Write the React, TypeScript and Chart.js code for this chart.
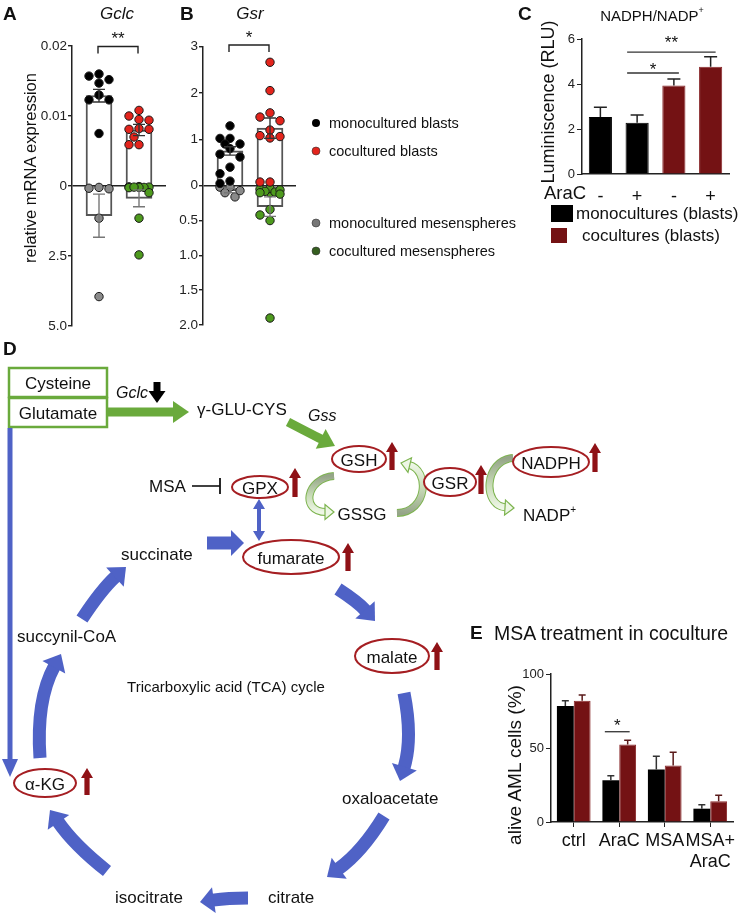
import React, { useEffect, useRef } from "react";
import { Chart, registerables } from "chart.js";
Chart.register(...registerables);

const FONT = '"Liberation Sans", Arial, Helvetica, sans-serif';
Chart.defaults.font.family = FONT;

// ---------- Panel A: Gclc ----------
const gclcMonoBlasts = [0.016, 0.0157, 0.0152, 0.0147, 0.013, 0.0123, 0.0123, 0.0075];
const gclcCoBlasts = [0.0108, 0.01, 0.0095, 0.0094, 0.0081, 0.0082, 0.0081, 0.007, 0.0059, 0.0059];
const gclcMonoMesen = [0.08, 0.05, 0.1, 1.15, 3.95];
const gclcCoMesen = [0.02, 0.04, 0.05, 0.03, 0.06, 0.05, 0.04, 0.24, 1.15, 2.46];
const gclcBlastMean = [0.0129, 0.008];
const gclcBlastSem = [0.0009, 0.0008];
const gclcMesenMean = [1.06, 0.44];
const gclcMesenSem = [0.77, 0.3];
const gclcUpperTicks = [0.01, 0.02];
const gclcLowerTicks = [2.5, 5.0];

// ---------- Panel B: Gsr ----------
const gsrMonoBlasts = [1.29, 1.02, 1.02, 0.9, 0.9, 0.8, 0.62, 0.68, 0.4, 0.26, 0.1, 0.05];
const gsrCoBlasts = [2.66, 2.05, 1.57, 1.48, 1.4, 1.2, 1.08, 1.06, 1.03, 0.08, 0.08];
const gsrMonoMesen = [0.02, 0.02, 0.16, 0.1, 0.07];
const gsrCoMesen = [0.05, 0.1, 0.04, 0.09, 0.08, 0.1, 0.06, 0.12, 0.34, 0.42, 0.5, 1.9];
const gsrBlastMean = [0.75, 1.24];
const gsrBlastSem = [0.09, 0.22];
const gsrMesenMean = [0.07, 0.3];
const gsrMesenSem = [0.03, 0.14];
const gsrUpperTicks = [1, 2, 3];
const gsrLowerTicks = [0.5, 1.0, 1.5, 2.0];

// ---------- Panel C: NADPH/NADP+ ----------
const nadphLabels = ["-", "+", "-", "+"];
const nadphValues = [2.53, 2.28, 3.93, 4.77];
const nadphSem = [0.44, 0.34, 0.29, 0.44];
const nadphCoculture = [false, false, true, true];

// ---------- Panel E: MSA treatment ----------
const msaCategories = ["ctrl", "AraC", "MSA", ["MSA+", "AraC"]];
const msaMono = [78.3, 28.2, 35.4, 9.0];
const msaMonoSem = [3.6, 3.0, 9.1, 2.7];
const msaCo = [81.9, 52.4, 38.2, 14.0];
const msaCoSem = [3.9, 2.9, 9.0, 4.0];

const BLACK = "#000000";
const RED_PT = "#e3241c";
const GRAY_PT = "#8a8a8a";
const GREEN_PT = "#4e9a1e";
const DARK_RED = "#741214";

function starAt(ctx: any, text: string, cx: number, cy: number, size = 16) {
  ctx.font = `${size}px ${FONT}`;
  ctx.textAlign = "center";
  ctx.textBaseline = "alphabetic";
  ctx.fillStyle = "#111";
  ctx.fillText(text, cx, cy + 0.57 * size);
}

// greedy bee-swarm placement in pixel space
function swarm(ys: number[], pxY: number, pxX: number, center: number) {
  const order = ys.map((_, i) => i).sort((a, b) => ys[b] - ys[a]);
  const placed: { x: number; y: number }[] = [];
  const out: any[] = new Array(ys.length);
  const cands = [0, -1, 1, -0.5, 0.5];
  const step = 10;
  const minD = 8.5;
  for (const i of order) {
    const py = ys[i] * pxY;
    let best = 0;
    let bestD = -1;
    for (const c of cands) {
      const px = c * step;
      let d = Infinity;
      for (const q of placed) d = Math.min(d, Math.hypot(q.x - px, q.y - py));
      if (d >= minD) {
        best = px;
        bestD = d;
        break;
      }
      if (d > bestD) {
        bestD = d;
        best = px;
      }
    }
    placed.push({ x: best, y: py });
    out[i] = { x: center + best / pxX, y: ys[i] };
  }
  return out;
}

function splitConfig(p: any) {
  const up = (v: number) => v / p.upperMax;
  const dn = (v: number) => -v / p.lowerMax;
  const pxY = p.plotH / 2;
  const pxX = 40;
  const tickVals = [...p.upperTicks.map(up), 0, ...p.lowerTicks.map(dn)];
  const tickLabels = [...p.upperTicks.map(p.fmtUpper), "0", ...p.lowerTicks.map((v: number) => v.toFixed(1))];
  const mkPts = (vals: number[], f: (v: number) => number, g: number) => swarm(vals.map(f), pxY, pxX, g);
  const pt = (data: any[], color: string) => ({
    type: "scatter",
    data,
    backgroundColor: color,
    borderColor: "#1a1a1a",
    borderWidth: 1,
    pointRadius: 4.2,
    clip: false,
    order: 0,
  });
  const extras = {
    id: "splitExtras",
    afterDatasetsDraw(chart: any) {
      const { ctx, scales } = chart;
      const x = scales.x;
      const y = scales.y;
      ctx.save();
      const whisk = (g: number, lo: number, hi: number, color: string) => {
        const cx = x.getPixelForValue(g);
        const y1 = y.getPixelForValue(lo);
        const y2 = y.getPixelForValue(hi);
        ctx.strokeStyle = color;
        ctx.lineWidth = 1.4;
        ctx.beginPath();
        ctx.moveTo(cx, y1);
        ctx.lineTo(cx, y2);
        ctx.moveTo(cx - 6, y1);
        ctx.lineTo(cx + 6, y1);
        ctx.moveTo(cx - 6, y2);
        ctx.lineTo(cx + 6, y2);
        ctx.stroke();
      };
      [1, 2].forEach((g, i) => {
        whisk(g, up(p.blastMean[i] - p.blastSem[i]), up(p.blastMean[i] + p.blastSem[i]), "#333");
        whisk(g, dn(p.mesenMean[i] - p.mesenSem[i]), dn(p.mesenMean[i] + p.mesenSem[i]), "#777");
      });
      const top = chart.chartArea.top + p.bracketDy;
      const x1 = x.getPixelForValue(1) - 1;
      const x2 = x.getPixelForValue(2) - 1;
      ctx.strokeStyle = "#222";
      ctx.lineWidth = 1.4;
      ctx.beginPath();
      ctx.moveTo(x1, top + 7);
      ctx.lineTo(x1, top);
      ctx.lineTo(x2, top);
      ctx.lineTo(x2, top + 7);
      ctx.stroke();
      starAt(ctx, p.star, (x1 + x2) / 2, top - 12, 17);
      ctx.restore();
    },
  };
  return {
    type: "scatter",
    data: {
      datasets: [
        pt(mkPts(p.monoBlasts, up, 1), BLACK),
        pt(mkPts(p.coBlasts, up, 2), RED_PT),
        pt(mkPts(p.monoMesen, dn, 1), GRAY_PT),
        pt(mkPts(p.coMesen, dn, 2), GREEN_PT),
        {
          type: "bar",
          data: [
            { x: 1, y: up(p.blastMean[0]) },
            { x: 2, y: up(p.blastMean[1]) },
            { x: 1, y: dn(p.mesenMean[0]) },
            { x: 2, y: dn(p.mesenMean[1]) },
          ],
          barThickness: 26,
          grouped: false,
          backgroundColor: "rgba(255,255,255,0)",
          borderColor: "#555",
          borderWidth: 1.3,
          order: 1,
        },
      ],
    },
    options: {
      animation: false,
      responsive: false,
      devicePixelRatio: 1,
      events: [],
      layout: { padding: { top: p.padTop, right: p.padRight, bottom: p.padBottom, left: 0 } },
      plugins: { legend: { display: false }, tooltip: { enabled: false } },
      scales: {
        x: { type: "linear", min: p.xMin, max: p.xMax, offset: false, display: false },
        y: {
          type: "linear",
          min: -1,
          max: 1,
          afterFit: (s: any) => {
            s.width = p.axisW;
          },
          afterBuildTicks: (s: any) => {
            s.ticks = tickVals.map((v) => ({ value: v }));
          },
          ticks: {
            callback: (_v: any, i: number) => tickLabels[i],
            font: { size: 13.5 },
            color: "#222",
            padding: 1,
          },
          grid: {
            color: (c: any) => (c.tick && Math.abs(c.tick.value) < 1e-9 ? "#222" : "rgba(0,0,0,0)"),
            lineWidth: 1.4,
            tickColor: "#222",
            tickLength: 4,
          },
          border: { display: true, color: "#222", width: 1.5 },
        },
      },
    },
    plugins: [extras],
  };
}

function configA() {
  return splitConfig({
    upperMax: 0.02,
    lowerMax: 5.0,
    upperTicks: gclcUpperTicks,
    lowerTicks: gclcLowerTicks,
    fmtUpper: (v: number) => String(v),
    monoBlasts: gclcMonoBlasts,
    coBlasts: gclcCoBlasts,
    monoMesen: gclcMonoMesen,
    coMesen: gclcCoMesen,
    blastMean: gclcBlastMean,
    blastSem: gclcBlastSem,
    mesenMean: gclcMesenMean,
    mesenSem: gclcMesenSem,
    star: "**",
    plotH: 280,
    axisW: 72,
    padTop: 46,
    padBottom: 14,
    padRight: 9,
    xMin: 0.325,
    xMax: 2.675,
    bracketDy: 0.5,
  });
}

function configB() {
  return splitConfig({
    upperMax: 3,
    lowerMax: 2.0,
    upperTicks: gsrUpperTicks,
    lowerTicks: gsrLowerTicks,
    fmtUpper: (v: number) => String(v),
    monoBlasts: gsrMonoBlasts,
    coBlasts: gsrCoBlasts,
    monoMesen: gsrMonoMesen,
    coMesen: gsrCoMesen,
    blastMean: gsrBlastMean,
    blastSem: gsrBlastSem,
    mesenMean: gsrMesenMean,
    mesenSem: gsrMesenSem,
    star: "*",
    plotH: 278.5,
    axisW: 83,
    padTop: 46.5,
    padBottom: 15,
    padRight: 9,
    xMin: 0.325,
    xMax: 2.65,
    bracketDy: -1.5,
  });
}

function barErrPlugin(id: string, specs: { ds: number; sem: number[]; color: string }[], cap: number, sig: any[]) {
  return {
    id,
    afterDatasetsDraw(chart: any) {
      const { ctx } = chart;
      const y = chart.scales.y;
      ctx.save();
      for (const s of specs) {
        const meta = chart.getDatasetMeta(s.ds);
        const vals = chart.data.datasets[s.ds].data;
        meta.data.forEach((el: any, i: number) => {
          const y1 = y.getPixelForValue(vals[i]);
          const y2 = y.getPixelForValue(vals[i] + s.sem[i]);
          ctx.strokeStyle = s.color;
          ctx.lineWidth = 1.5;
          ctx.beginPath();
          ctx.moveTo(el.x, y1);
          ctx.lineTo(el.x, y2);
          ctx.moveTo(el.x - cap / 2, y2);
          ctx.lineTo(el.x + cap / 2, y2);
          ctx.stroke();
        });
      }
      for (const g of sig) {
        const a = chart.getDatasetMeta(g.dsA).data[g.a];
        const b = chart.getDatasetMeta(g.dsB).data[g.b];
        const ly = y.getPixelForValue(g.y);
        const xa = a.x + g.offA;
        const xb = b.x + g.offB;
        ctx.strokeStyle = "#333";
        ctx.lineWidth = 1.3;
        ctx.beginPath();
        ctx.moveTo(xa, ly);
        ctx.lineTo(xb, ly);
        ctx.stroke();
        starAt(ctx, g.star, (xa + xb) / 2, ly - g.starDy, 17);
      }
      ctx.restore();
    },
  };
}

function configC() {
  return {
    type: "bar",
    data: {
      labels: nadphLabels,
      datasets: [
        {
          data: nadphValues,
          backgroundColor: nadphCoculture.map((c) => (c ? DARK_RED : BLACK)),
          borderColor: nadphCoculture.map((c) => (c ? "#8a2a2c" : BLACK)),
          borderWidth: 1,
          barPercentage: 0.63,
          categoryPercentage: 1,
        },
      ],
    },
    options: {
      animation: false,
      responsive: false,
      devicePixelRatio: 1,
      events: [],
      layout: { padding: { top: 39, right: 15, bottom: 0, left: 0 } },
      plugins: { legend: { display: false }, tooltip: { enabled: false } },
      scales: {
        x: {
          afterFit: (s: any) => {
            s.height = 26;
          },
          grid: { display: false },
          border: { display: true, color: "#222", width: 1.5 },
          ticks: { font: { size: 18 }, color: "#111", padding: 4 },
        },
        y: {
          min: 0,
          max: 6,
          afterFit: (s: any) => {
            s.width = 92;
          },
          ticks: { stepSize: 2, font: { size: 13 }, color: "#222", padding: 2 },
          grid: { drawOnChartArea: false, tickLength: 5, color: "#222", tickColor: "#222" },
          border: { display: true, color: "#222", width: 1.5 },
        },
      },
    },
    plugins: [
      barErrPlugin(
        "cErr",
        [{ ds: 0, sem: nadphSem, color: "#222" }],
        13,
        [
          { dsA: 0, a: 1, dsB: 0, b: 2, y: 4.49, offA: -10, offB: 5, star: "*", starDy: 8 },
          { dsA: 0, a: 1, dsB: 0, b: 3, y: 5.42, offA: -10, offB: 5, star: "**", starDy: 14 },
        ]
      ),
    ],
  };
}

function configE() {
  return {
    type: "bar",
    data: {
      labels: msaCategories,
      datasets: [
        { data: msaMono, backgroundColor: BLACK, barPercentage: 1, categoryPercentage: 0.74 },
        { data: msaCo, backgroundColor: DARK_RED, borderColor: "#8a2a2c", borderWidth: 1, barPercentage: 1, categoryPercentage: 0.74 },
      ],
    },
    options: {
      animation: false,
      responsive: false,
      devicePixelRatio: 1,
      events: [],
      layout: { padding: { top: 34, right: 11, bottom: 0, left: 0 } },
      plugins: { legend: { display: false }, tooltip: { enabled: false } },
      scales: {
        x: {
          afterFit: (s: any) => {
            s.height = 48;
          },
          grid: { offset: false, drawOnChartArea: false, tickLength: 5, color: "#222", tickColor: "#222" },
          border: { display: true, color: "#222", width: 1.5 },
          ticks: { font: { size: 18 }, color: "#111", padding: 3, maxRotation: 0, autoSkip: false },
        },
        y: {
          min: 0,
          max: 100,
          afterFit: (s: any) => {
            s.width = 91;
          },
          ticks: { stepSize: 50, font: { size: 13 }, color: "#222", padding: 2 },
          grid: { drawOnChartArea: false, tickLength: 5, color: "#222", tickColor: "#222" },
          border: { display: true, color: "#222", width: 1.5 },
        },
      },
    },
    plugins: [
      barErrPlugin(
        "eErr",
        [
          { ds: 0, sem: msaMonoSem, color: "#333" },
          { ds: 1, sem: msaCoSem, color: "#5a1a1a" },
        ],
        7,
        [{ dsA: 0, a: 1, dsB: 1, b: 1, y: 61, offA: -6, offB: 2, star: "*", starDy: 10 }]
      ),
    ],
  };
}

function ChartCanvas({ left, top, width, height, make }: any) {
  const ref = useRef<HTMLCanvasElement>(null);
  useEffect(() => {
    const chart = new Chart(ref.current as HTMLCanvasElement, make());
    return () => chart.destroy();
  }, []);
  return (
    <canvas
      ref={ref}
      width={width}
      height={height}
      style={{ position: "absolute", left, top, width, height }}
    />
  );
}

type P = [number, number];

function blockArrow(key: string, p0: P, c: P, p1: P, shaft: number, headW: number, headL: number, color: string) {
  const tx = p1[0] - c[0];
  const ty = p1[1] - c[1];
  const len = Math.hypot(tx, ty) || 1;
  const ux = tx / len;
  const uy = ty / len;
  const bx = p1[0] - ux * headL;
  const by = p1[1] - uy * headL;
  const nx = -uy;
  const ny = ux;
  const ex = bx + ux;
  const ey = by + uy;
  const d = `M${p0[0]},${p0[1]} Q${c[0]},${c[1]} ${ex},${ey}`;
  const head = `${p1[0]},${p1[1]} ${bx + (nx * headW) / 2},${by + (ny * headW) / 2} ${bx - (nx * headW) / 2},${by - (ny * headW) / 2}`;
  return (
    <g key={key}>
      <path d={d} stroke={color} strokeWidth={shaft} fill="none" />
      <polygon points={head} fill={color} />
    </g>
  );
}

function cycleArrow(key: string, p0: P, c1: P, c2: P, p1: P) {
  const tx = p1[0] - c2[0];
  const ty = p1[1] - c2[1];
  const len = Math.hypot(tx, ty) || 1;
  const ux = tx / len;
  const uy = ty / len;
  const headL = 9;
  const headW = 15;
  const bx = p1[0] - ux * headL;
  const by = p1[1] - uy * headL;
  const nx = -uy;
  const ny = ux;
  const d = `M${p0[0]},${p0[1]} C${c1[0]},${c1[1]} ${c2[0]},${c2[1]} ${bx + ux},${by + uy}`;
  const head = `${p1[0]},${p1[1]} ${bx + (nx * headW) / 2},${by + (ny * headW) / 2} ${bx - (nx * headW) / 2},${by - (ny * headW) / 2}`;
  return (
    <g key={key}>
      <defs>
        <linearGradient id={`grad-${key}`} gradientUnits="userSpaceOnUse" x1={p0[0]} y1={p0[1]} x2={p1[0]} y2={p1[1]}>
          <stop offset="0" stopColor="#95a588" />
          <stop offset="0.55" stopColor="#c9dcb8" />
          <stop offset="1" stopColor="#eef7e6" />
        </linearGradient>
      </defs>
      <path d={d} stroke="#7db44f" strokeWidth={8} fill="none" />
      <path d={d} stroke={`url(#grad-${key})`} strokeWidth={6} fill="none" />
      <polygon points={head} fill="#eef7e6" stroke="#7db44f" strokeWidth={1.2} />
    </g>
  );
}

function upArrow(key: string, x: number, yTop: number, yBot: number) {
  const color = "#8f1116";
  return (
    <g key={key}>
      <rect x={x - 2.6} y={yTop + 9} width={5.2} height={yBot - yTop - 9} fill={color} />
      <polygon points={`${x},${yTop} ${x - 6},${yTop + 10} ${x + 6},${yTop + 10}`} fill={color} />
    </g>
  );
}

function Oval({ cx, cy, rx, ry, label }: any) {
  return (
    <g>
      <ellipse cx={cx} cy={cy} rx={rx} ry={ry} fill="#fff" stroke="#a51e22" strokeWidth={2} />
      <text x={cx} y={cy + 1} fontSize={17} textAnchor="middle" dominantBaseline="central" fill="#111">
        {label}
      </text>
    </g>
  );
}

function T({ x, y, size = 17, anchor = "start", children, italic = false, bold = false, rotate = false }: any) {
  return (
    <text
      x={x}
      y={y}
      fontSize={size}
      textAnchor={anchor}
      dominantBaseline="central"
      fontStyle={italic ? "italic" : "normal"}
      fontWeight={bold ? "bold" : "normal"}
      fill="#111"
      transform={rotate ? `rotate(-90 ${x} ${y})` : undefined}
    >
      {children}
    </text>
  );
}

function Overlay() {
  const blue = "#4f62c6";
  const green = "#6aaa3c";
  return (
    <svg
      width={744}
      height={924}
      style={{ position: "absolute", left: 0, top: 0, pointerEvents: "none" }}
      fontFamily={FONT}
    >
      {/* Panel A / B labels */}
      <T x={3} y={13} size={19} bold>A</T>
      <T x={117} y={13} size={17} anchor="middle" italic>Gclc</T>
      <T x={30} y={168} size={16.5} anchor="middle" rotate>relative mRNA expression</T>
      <T x={180} y={13} size={19} bold>B</T>
      <T x={250} y={13} size={17} anchor="middle" italic>Gsr</T>

      {/* A/B legend */}
      <circle cx={316} cy={123} r={4} fill="#000" />
      <T x={329} y={123} size={14.5}>monocultured blasts</T>
      <circle cx={316} cy={151} r={4} fill={RED_PT} stroke="#333" strokeWidth={0.6} />
      <T x={329} y={151} size={14.5}>cocultured blasts</T>
      <circle cx={316} cy={223} r={4} fill="#777" stroke="#333" strokeWidth={0.6} />
      <T x={329} y={223} size={14.5}>monocultured mesenspheres</T>
      <circle cx={316} cy={251} r={4} fill="#355e1f" stroke="#333" strokeWidth={0.6} />
      <T x={329} y={251} size={14.5}>cocultured mesenspheres</T>

      {/* Panel C */}
      <T x={518} y={13} size={19} bold>C</T>
      <text x={652} y={15} fontSize={15} textAnchor="middle" dominantBaseline="central" fill="#111">
        NADPH/NADP<tspan fontSize={9} dy={-5}>+</tspan>
      </text>
      <T x={548} y={102} size={18} anchor="middle" rotate>Luminiscence (RLU)</T>
      <T x={565} y={192} size={18.5} anchor="middle">AraC</T>
      <rect x={551} y={205} width={22} height={17} fill="#000" />
      <T x={576} y={213} size={17}>monocultures (blasts)</T>
      <rect x={551} y={228} width={16} height={15} fill={DARK_RED} />
      <T x={582} y={235} size={17}>cocultures (blasts)</T>

      {/* Panel E */}
      <T x={470} y={632} size={19} bold>E</T>
      <T x={494} y={633} size={19.5}>MSA treatment in coculture</T>
      <T x={514} y={765} size={19} anchor="middle" rotate>alive AML cells (%)</T>

      {/* Panel D */}
      <T x={3} y={348} size={19} bold>D</T>
      <rect x={9} y={368} width={98} height={29} fill="none" stroke={green} strokeWidth={2.5} />
      <rect x={9} y={398} width={98} height={29} fill="none" stroke={green} strokeWidth={2.5} />
      <T x={58} y={383} anchor="middle">Cysteine</T>
      <T x={58} y={413} anchor="middle">Glutamate</T>
      <T x={116} y={392} size={16} italic>Gclc</T>
      {blockArrow("gclc", [157, 382], [157, 392], [157, 403], 7, 17, 12, "#000")}
      {blockArrow("glu", [107, 412], [150, 412], [189, 412], 9, 22, 16, green)}
      <T x={197} y={409}>γ-GLU-CYS</T>
      <T x={308} y={415} size={16} italic>Gss</T>
      {blockArrow("gss", [288, 422], [311, 434], [335, 446], 9, 22, 16, green)}

      {cycleArrow("c1", [334, 476], [306, 478], [300, 512], [334, 512])}
      {cycleArrow("c2", [397, 513], [428, 512], [430, 470], [401, 463])}
      {cycleArrow("c3", [513, 458], [484, 460], [482, 506], [514, 508])}

      <Oval cx={359} cy={459} rx={27} ry={13} label="GSH" />
      {upArrow("u-gsh", 392, 442, 470)}
      <Oval cx={260} cy={487} rx={28} ry={11} label="GPX" />
      {upArrow("u-gpx", 295, 468, 497)}
      <T x={149} y={486}>MSA</T>
      <line x1={192} y1={486} x2={220} y2={486} stroke="#111" strokeWidth={1.6} />
      <line x1={220} y1={478} x2={220} y2={494} stroke="#111" strokeWidth={1.8} />
      <T x={362} y={514} anchor="middle">GSSG</T>
      <Oval cx={450} cy={482} rx={26} ry={14} label="GSR" />
      {upArrow("u-gsr", 481, 465, 494)}
      <Oval cx={551} cy={462} rx={38} ry={15} label="NADPH" />
      {upArrow("u-nadph", 595, 443, 472)}
      <text x={523} y={515} fontSize={17} dominantBaseline="central" fill="#111">
        NADP<tspan fontSize={10} dy={-6}>+</tspan>
      </text>

      {/* TCA cycle */}
      {blockArrow("long", [10, 428], [10, 600], [10, 777], 5, 16, 18, blue)}
      {blockArrow("gpxfum1", [259, 520], [259, 510], [259, 499], 4, 12, 10, blue)}
      {blockArrow("gpxfum2", [259, 520], [259, 530], [259, 541], 4, 12, 10, blue)}
      {blockArrow("t1", [207, 543], [225, 543], [244, 543], 13, 26, 13, blue)}
      {blockArrow("t2", [338, 589], [358, 602], [375, 621], 13, 26, 15, blue)}
      {blockArrow("t3", [404, 693], [413, 738], [400, 781], 13, 26, 15, blue)}
      {blockArrow("t4", [384, 816], [362, 852], [327, 877], 13, 26, 15, blue)}
      {blockArrow("t5", [248, 898], [228, 898], [200, 902], 13, 26, 14, blue)}
      {blockArrow("t6", [107, 871], [74, 845], [50, 810], 13, 26, 15, blue)}
      {blockArrow("t7", [40, 758], [36, 700], [61, 654], 13, 26, 15, blue)}
      {blockArrow("t8", [82, 619], [101, 590], [126, 567], 13, 26, 15, blue)}

      <T x={121} y={554}>succinate</T>
      <Oval cx={291} cy={557} rx={48} ry={17} label="fumarate" />
      {upArrow("u-fum", 348, 543, 571)}
      <Oval cx={392} cy={656} rx={37} ry={17} label="malate" />
      {upArrow("u-mal", 437, 642, 670)}
      <T x={17} y={636}>succynil-CoA</T>
      <T x={226} y={686} size={15} anchor="middle">Tricarboxylic acid (TCA) cycle</T>
      <Oval cx={45} cy={783} rx={31} ry={14} label="α-KG" />
      {upArrow("u-akg", 87, 768, 795)}
      <T x={342} y={798}>oxaloacetate</T>
      <T x={268} y={897}>citrate</T>
      <T x={115} y={897}>isocitrate</T>
    </svg>
  );
}

export default function App() {
  return (
    <div
      style={{
        position: "absolute",
        left: 0,
        top: 0,
        width: 744,
        height: 924,
        background: "#fff",
        overflow: "hidden",
        fontFamily: FONT,
      }}
    >
      <ChartCanvas left={0} top={0} width={175} height={340} make={configA} />
      <ChartCanvas left={120} top={0} width={185} height={340} make={configB} />
      <ChartCanvas left={490} top={0} width={254} height={200} make={configC} />
      <ChartCanvas left={460} top={640} width={284} height={230} make={configE} />
      <Overlay />
    </div>
  );
}
